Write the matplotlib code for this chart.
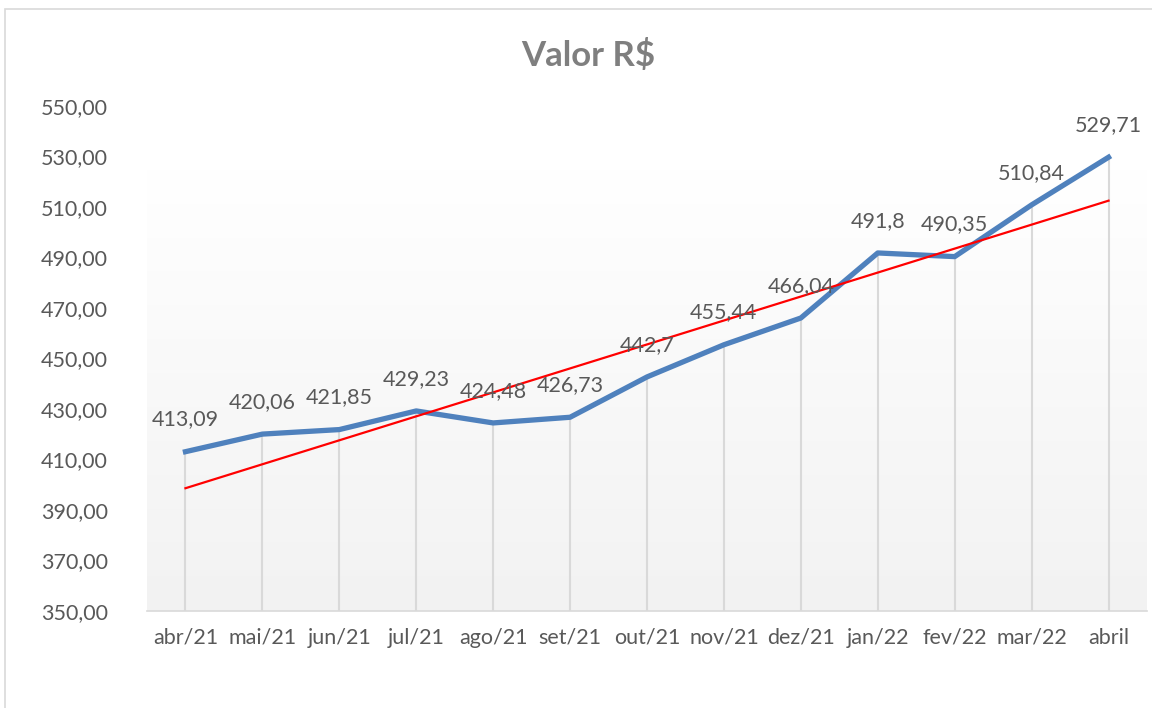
import numpy as np
import matplotlib
matplotlib.use("Agg")
import matplotlib.pyplot as plt
from matplotlib.patches import Rectangle

plt.rcParams['font.family'] = ['Lato', 'DejaVu Sans']

categories = ["abr/21", "mai/21", "jun/21", "jul/21", "ago/21", "set/21", "out/21",
              "nov/21", "dez/21", "jan/22", "fev/22", "mar/22", "abril"]
values = [413.09, 420.06, 421.85, 429.23, 424.48, 426.73, 442.7,
          455.44, 466.04, 491.8, 490.35, 510.84, 529.71]
labels = ["413,09", "420,06", "421,85", "429,23", "424,48", "426,73", "442,7",
          "455,44", "466,04", "491,8", "490,35", "510,84", "529,71"]
yticks = [350, 370, 390, 410, 430, 450, 470, 490, 510, 530, 550]
ytick_labels = ["350,00", "370,00", "390,00", "410,00", "430,00", "450,00",
                "470,00", "490,00", "510,00", "530,00", "550,00"]
title = "Valor R$"

W, H = 1152, 708
fig = plt.figure(figsize=(W / 100, H / 100), dpi=100)
fig.patch.set_facecolor("white")

# outer chart border
fig.add_artist(Rectangle((5 / W, -0.01), 1.1, (H - 9) / H + 0.01, transform=fig.transFigure,
                         fill=False, edgecolor="#d9d9d9", linewidth=1.2))

left, right = 147, 1147
top, bottom = 106, 611
ax = fig.add_axes([left / W, 1 - bottom / H, (right - left) / W, (bottom - top) / H])

x = np.arange(len(values))
ax.set_xlim(-0.5, len(values) - 0.5)
ax.set_ylim(350, 550)

# gradient background (white at top, light gray at bottom)
grad = np.linspace(0.0, 1.0, 256).reshape(-1, 1)
cmap = matplotlib.colors.LinearSegmentedColormap.from_list("g", ["#f2f2f2", "#ffffff"])
ax.imshow(grad, aspect="auto", cmap=cmap, extent=[-0.5, len(values) - 0.5, 350, 525],
          origin="lower", zorder=0)

# drop lines
ax.vlines(x, 350, values, colors="#d9d9d9", linewidth=1.5, zorder=1)

# series
ax.plot(x, values, color="#4f81bd", linewidth=3.8, solid_joinstyle="round", zorder=3)

# linear trendline
coef = np.polyfit(x, values, 1)
ax.plot(x, np.polyval(coef, x), color="#ff0000", linewidth=1.6, zorder=4)

for xi, v, lab in zip(x, values, labels):
    ax.annotate(lab, (xi, v), xytext=(0, 16), textcoords="offset points",
                ha="center", va="bottom", fontsize=15.5, color="#595959", zorder=5)

ax.set_xticks(x)
ax.set_xticklabels(categories, fontsize=15.5, color="#595959")
ax.set_yticks(yticks)
ax.set_yticklabels(ytick_labels, fontsize=15.5, color="#595959")
ax.tick_params(axis="both", length=0)
ax.tick_params(axis="x", pad=12)
ax.tick_params(axis="y", pad=28)
for s in ["top", "right", "left"]:
    ax.spines[s].set_visible(False)
ax.spines["bottom"].set_color("#d9d9d9")
ax.spines["bottom"].set_linewidth(1.2)
ax.set_facecolor("white")

fig.text(588 / W, 1 - 55 / H, title, ha="center", va="center", fontsize=25,
         fontweight="bold", color="#7f7f7f")

fig.savefig("out.png", dpi=100)
